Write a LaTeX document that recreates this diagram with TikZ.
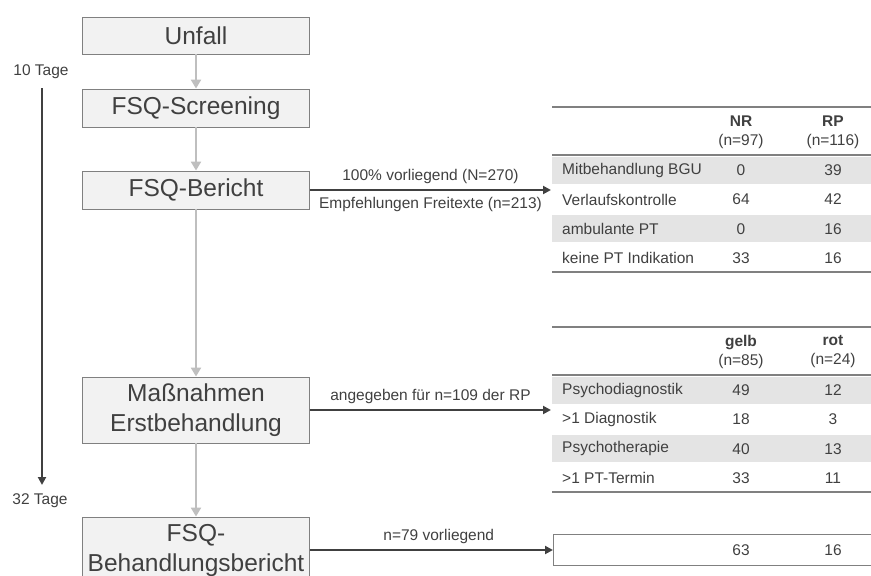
\documentclass[tikz,border=0pt]{standalone}
\usepackage{fontspec}
\setmainfont{Liberation Sans}
\usetikzlibrary{arrows.meta,positioning}
\definecolor{txtgray}{HTML}{404040}
\definecolor{boxfill}{HTML}{F2F2F2}
\definecolor{boxline}{HTML}{808080}
\definecolor{flowgray}{HTML}{BFBFBF}
\definecolor{rowgray}{HTML}{E4E4E4}

\begin{document}
\begin{tikzpicture}[x=1pt, y=-1pt,
    stagebox/.style={draw=boxline, fill=boxfill, line width=0.9pt, minimum width=227pt,
      inner sep=0pt, align=center, text=txtgray, font=\fontsize{24.5}{30}\selectfont},
    flowarrow/.style={-{Triangle[length=9pt,width=10pt]}, draw=flowgray, line width=2.8pt},
    outarrow/.style={-{Triangle[length=8pt,width=8pt]}, draw=txtgray, line width=2.6pt},
    edgelabel/.style={font=\fontsize{15.5}{18}\selectfont, text=txtgray},
    daylabel/.style={font=\fontsize{15.5}{18}\selectfont, text=txtgray},
    cell/.style={font=\fontsize{15.5}{19}\selectfont, text=txtgray, inner sep=0pt},
    tablerule/.style={draw=boxline, line width=1.6pt}]

    \useasboundingbox (0,0) rectangle (871,576);
    \clip (0,0) rectangle (871,576);

    % Flow boxes
    \node[stagebox, minimum height=37pt] (unfall) at (196,35.5) {Unfall};
    \node[stagebox, minimum height=38pt] (screening) at (196,108) {FSQ-Screening};
    \node[stagebox, minimum height=38pt] (bericht) at (196,190) {FSQ-Bericht};
    \node[stagebox, minimum height=66pt] (massnahmen) at (196,410) {Maßnahmen\\Erstbehandlung};
    \node[stagebox, minimum height=66pt] (behandlung) at (196,550) {FSQ-\\Behandlungsbericht};

    \draw[flowarrow] (unfall) -- (screening);
    \draw[flowarrow] (screening) -- (bericht);
    \draw[flowarrow] (bericht) -- (massnahmen);
    \draw[flowarrow] (massnahmen) -- (behandlung);

    % Time axis
    \node[daylabel] (tage10) at (41,72) {10 Tage};
    \node[daylabel] (tage32) at (40,501) {32 Tage};
    \coordinate (tstart) at (42,88);
    \coordinate (tend) at (42,485);
    \draw[outarrow] (tstart) -- (tend);

    % Table 1: FSQ-Bericht
    \fill[rowgray] (552,156.5) rectangle (871,183.5);
    \fill[rowgray] (552,215) rectangle (871,242);
    \draw[tablerule] (552,107) -- (871,107);
    \draw[tablerule] (552,155) -- (871,155);
    \draw[tablerule] (552,272) -- (871,272);
    \node[cell, align=center] (nrhead) at (741,132) {\textbf{NR}\\(n=97)};
    \node[cell, align=center] (rphead) at (833,132) {\textbf{RP}\\(n=116)};
    \foreach \lab/\nr/\rp [count=\i] in {Mitbehandlung BGU/0/39, Verlaufskontrolle/64/42,
        ambulante PT/0/16, keine PT Indikation/33/16} {
      \node[cell, anchor=west] (berlab\i) at (562,141+29.25*\i) {\lab};
      \node[cell] (bernr\i) at (741,141+29.25*\i) {\nr};
      \node[cell] (berrp\i) at (833,141+29.25*\i) {\rp};
    }
    \coordinate (tabin1) at (551,190);
    \draw[outarrow] (bericht.east) -- (tabin1)
      node[edgelabel, midway, above=2pt] (lab100) {100\% vorliegend (N=270)}
      node[edgelabel, midway, below=3pt] (labfrei) {Empfehlungen Freitexte (n=213)};

    % Table 2: Massnahmen
    \fill[rowgray] (552,376.5) rectangle (871,403.5);
    \fill[rowgray] (552,435) rectangle (871,462);
    \draw[tablerule] (552,327) -- (871,327);
    \draw[tablerule] (552,375) -- (871,375);
    \draw[tablerule] (552,492) -- (871,492);
    \node[cell, align=center] (gelbhead) at (741,352) {\textbf{gelb}\\(n=85)};
    \node[cell, align=center] (rothead) at (833,352) {\textbf{rot}\\(n=24)};
    \foreach \lab/\gelb/\rot [count=\i] in {Psychodiagnostik/49/12, >1 Diagnostik/18/3,
        Psychotherapie/40/13, >1 PT-Termin/33/11} {
      \node[cell, anchor=west] (maslab\i) at (562,361+29.25*\i) {\lab};
      \node[cell] (masgelb\i) at (741,361+29.25*\i) {\gelb};
      \node[cell] (masrot\i) at (833,361+29.25*\i) {\rot};
    }
    \coordinate (tabin2) at (551,410);
    \draw[outarrow] (massnahmen.east) -- (tabin2)
      node[edgelabel, midway, above=2pt] (labrp) {angegeben für n=109 der RP};

    % Result box: Behandlungsbericht
    \node[draw=boxline, line width=1.2pt, minimum width=330pt, minimum height=31pt,
      inner sep=0pt, anchor=west] (resbox) at (553,550) {};
    \node[cell] (res63) at (741,550) {63};
    \node[cell] (res16) at (833,550) {16};
    \draw[outarrow] (behandlung.east) -- (behandlung.east -| resbox.west)
      node[edgelabel, pos=0.53, above=2pt] (lab79) {n=79 vorliegend};
\end{tikzpicture}
\end{document}
